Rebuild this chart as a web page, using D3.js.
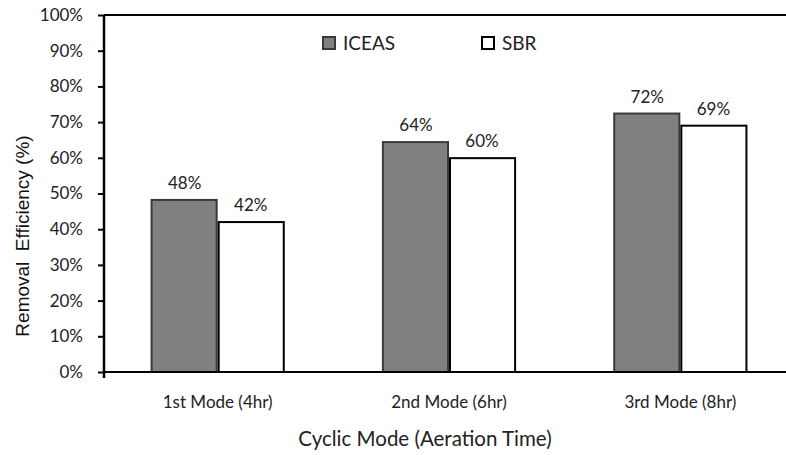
<!DOCTYPE html>
<html><head><meta charset="utf-8">
<script src="https://cdn.jsdelivr.net/npm/d3@7/dist/d3.min.js"></script>
<style>body{margin:0;background:#fff}svg{display:block}</style>
</head><body>
<svg id="c" width="786" height="455"></svg>
<script>
const categories = ["1st Mode (4hr)", "2nd Mode (6hr)", "3rd Mode (8hr)"];
const seriesNames = ["ICEAS", "SBR"];
const iceas = [48.2, 64.4, 72.4];
const sbr = [42.0, 59.9, 69.0];
const iceasLabels = ["48%", "64%", "72%"];
const sbrLabels = ["42%", "60%", "69%"];
const yTicks = [0, 10, 20, 30, 40, 50, 60, 70, 80, 90, 100];

const svg = d3.select("#c");
const axisX = 104, bandStart = 102, bandEnd = 796, yTop = 15, yBot = 372;
const x = d3.scaleBand().domain(categories).range([bandStart, bandEnd]).paddingInner(0).paddingOuter(0);
const xs = d3.scaleBand().domain(seriesNames).range([0, x.bandwidth()]).paddingInner(0.0).paddingOuter(0.75);
const y = d3.scaleLinear().domain([0, 100]).range([yBot, yTop]);
const fonts = "Lato, 'Open Sans', sans-serif";

// top border
svg.append("line").attr("x1", axisX).attr("x2", 786).attr("y1", yTop).attr("y2", yTop)
  .attr("stroke", "#000").attr("stroke-width", 2);

const data = [];
categories.forEach((c, i) => {
  data.push({c, s: "ICEAS", v: iceas[i], l: iceasLabels[i]});
  data.push({c, s: "SBR", v: sbr[i], l: sbrLabels[i]});
});

svg.append("g").selectAll("rect").data(data).join("rect")
  .attr("x", d => x(d.c) + xs(d.s) + (d.s === "SBR" ? 1 : 0))
  .attr("width", xs.bandwidth() - 1)
  .attr("y", d => y(d.v))
  .attr("height", d => yBot - y(d.v))
  .attr("fill", d => d.s === "ICEAS" ? "#808080" : "#fff")
  .attr("stroke", d => d.s === "ICEAS" ? "#3a3a3a" : "#000")
  .attr("stroke-width", 2);

svg.append("g").selectAll("text").data(data).join("text")
  .attr("x", d => x(d.c) + xs(d.s) + xs.bandwidth() / 2)
  .attr("y", d => y(d.v) - 11)
  .attr("text-anchor", "middle")
  .attr("font-family", fonts).attr("font-size", 17).attr("fill", "#222")
  .text(d => d.l);

// y axis
const yAxis = d3.axisLeft(y).tickValues(yTicks).tickFormat(d => d + "%").tickSize(6).tickPadding(15);
const gy = svg.append("g").attr("transform", `translate(${axisX},0)`).call(yAxis);
gy.select(".domain").attr("stroke", "#000").attr("stroke-width", 2.5).attr("d", `M0,${yTop}V${yBot + 6}`);
gy.selectAll(".tick line").attr("stroke", "#000").attr("stroke-width", 2);
gy.selectAll(".tick text").attr("font-family", fonts).attr("font-size", 17).attr("fill", "#222");

// x axis
const xAxis = d3.axisBottom(x).tickSize(0).tickPadding(24);
const gx = svg.append("g").attr("transform", `translate(0,${yBot})`).call(xAxis);
gx.select(".domain").attr("stroke", "#000").attr("stroke-width", 2).attr("d", `M${axisX},0H786`);
gx.selectAll(".tick text").attr("font-family", fonts).attr("font-size", 17).attr("fill", "#222");

// axis titles
svg.append("text").attr("x", 425).attr("y", 446).attr("text-anchor", "middle")
  .attr("font-family", fonts).attr("font-size", 20.5).attr("fill", "#222")
  .text("Cyclic Mode (Aeration Time)");
svg.append("text").attr("transform", "translate(29,236) rotate(-90)").attr("text-anchor", "middle")
  .attr("font-family", "'Liberation Sans', Arial, sans-serif").attr("font-size", 19).attr("fill", "#111")
  .attr("xml:space", "preserve")
  .text("Removal  Efficiency (%)");

// legend
const legendX = [323, 482];
const lg = svg.append("g").selectAll("g").data(seriesNames).join("g")
  .attr("transform", (d, i) => `translate(${legendX[i]},37)`);
lg.append("rect").attr("width", 12).attr("height", 12)
  .attr("fill", d => d === "ICEAS" ? "#808080" : "#fff")
  .attr("stroke", d => d === "ICEAS" ? "#3a3a3a" : "#000").attr("stroke-width", 2);
lg.append("text").attr("x", 20).attr("y", 13).attr("font-family", fonts).attr("font-size", 19)
  .attr("fill", "#222").text(d => d);
</script>
</body></html>
